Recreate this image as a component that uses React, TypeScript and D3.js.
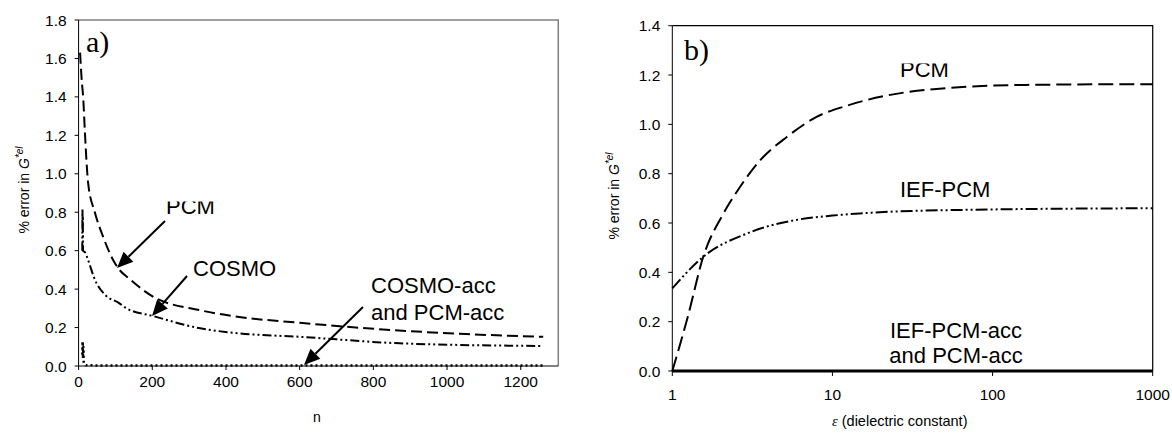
import * as d3 from 'd3'

// panel a) : error vs number of surface elements n
const nPcm = [4, 8, 13, 17, 26, 44, 67, 94, 107, 140, 203, 330, 436, 600, 782, 1053, 1261]
const valPcm = [1.63, 1.5, 1.38, 1.22, 0.95, 0.8, 0.67, 0.55, 0.51, 0.45, 0.36, 0.29, 0.255, 0.225, 0.196, 0.166, 0.152]

const nCosmo = [10, 10.5, 11, 11.5, 12, 18, 26, 44, 72, 108, 130, 202, 330, 436, 600, 872, 1260]
const valCosmo = [0.6, 0.82, 0.7, 0.78, 0.6, 0.59, 0.55, 0.45, 0.37, 0.33, 0.3, 0.26, 0.196, 0.17, 0.152, 0.118, 0.104]

const nAcc = [10, 11, 12, 13, 14, 16, 20, 50, 100, 300, 600, 900, 1260]
const valAcc = [0.06, 0.127, 0.04, 0.1, 0.02, 0.01, 0.004, 0.003, 0.002, 0.002, 0.002, 0.002, 0.002]

const aXTicks = [0, 200, 400, 600, 800, 1000, 1200]
const aYTicks = [0, 0.2, 0.4, 0.6, 0.8, 1.0, 1.2, 1.4, 1.6, 1.8]

// panel b) : error vs dielectric constant
const epsPcm = [1, 1.25, 1.56, 2.08, 2.64, 3.52, 5.17, 7.95, 12.8, 38.6, 162, 1000]
const valPcmB = [0, 0.22, 0.463, 0.637, 0.745, 0.853, 0.948, 1.03, 1.079, 1.14, 1.16, 1.163]

const epsIef = [1, 1.56, 3.05, 6.26, 10, 14.8, 62, 1000]
const valIef = [0.335, 0.463, 0.562, 0.615, 0.63, 0.639, 0.653, 0.66]

const epsAcc = [1, 10, 100, 1000]
const valAccB = [0, 0, 0, 0]

const bXTicks = [1, 10, 100, 1000]
const bYTicks = [0, 0.2, 0.4, 0.6, 0.8, 1.0, 1.2, 1.4]

const font = '"Liberation Sans", Arial, sans-serif'
const serif = '"Liberation Serif", "Times New Roman", serif'
const tickSize = 15.5
const noteSize = 22

function Arrow({ x1, y1, x2, y2 }) {
  const ang = Math.atan2(y2 - y1, x2 - x1)
  const len = 16
  const w = 7
  const bx = x2 - len * Math.cos(ang)
  const by = y2 - len * Math.sin(ang)
  const px = -Math.sin(ang) * w
  const py = Math.cos(ang) * w
  return (
    <g>
      <line x1={x1} y1={y1} x2={bx} y2={by} stroke="#000" strokeWidth={2} />
      <polygon points={`${x2},${y2} ${bx + px},${by + py} ${bx - px},${by - py}`} fill="#000" />
    </g>
  )
}

function YLabel({ x, y }) {
  return (
    <text transform={`translate(${x},${y}) rotate(-90)`} textAnchor="middle" fontFamily={font} fontSize={14}>
      % error in <tspan fontStyle="italic">G</tspan>
      <tspan fontStyle="italic" fontSize={10} dy={-6}>*el</tspan>
    </text>
  )
}

function PanelA() {
  const m = { left: 78.6, right: 558.3, top: 20, bottom: 366 }
  const x = d3.scaleLinear().domain([0, 1302]).range([m.left, m.right])
  const y = d3.scaleLinear().domain([0, 1.8]).range([m.bottom, m.top])
  const line = (xs, ys) =>
    d3
      .line()
      .x((d, i) => x(xs[i]))
      .y((d) => y(d))
      .curve(d3.curveMonotoneX)(ys)

  return (
    <g>
      <defs>
        <clipPath id="clipPcmA">
          <rect x={150} y={201.5} width={100} height={30} />
        </clipPath>
      </defs>
      <path d={`M${m.left},${m.top}H${m.right}V${m.bottom}`} fill="none" stroke="#808080" strokeWidth={1.5} />
      <line x1={m.left} x2={m.right} y1={m.bottom} y2={m.bottom} stroke="#000" />
      <line x1={m.left} x2={m.left} y1={m.top} y2={m.bottom} stroke="#000" />
      {aYTicks.map((t) => (
        <g key={t}>
          <line x1={m.left - 4} x2={m.left} y1={y(t)} y2={y(t)} stroke="#000" />
          <text x={m.left - 12} y={y(t) + 5.5} textAnchor="end" fontFamily={font} fontSize={tickSize}>
            {t.toFixed(1)}
          </text>
        </g>
      ))}
      {aXTicks.map((t) => (
        <g key={t}>
          <line x1={x(t)} x2={x(t)} y1={m.bottom} y2={m.bottom + 4} stroke="#000" />
          <text x={x(t)} y={m.bottom + 21} textAnchor="middle" fontFamily={font} fontSize={tickSize}>
            {t}
          </text>
        </g>
      ))}
      <text x={317} y={422} textAnchor="middle" fontFamily={font} fontSize={14}>n</text>
      <YLabel x={29} y={190} />

      <path d={line(nPcm, valPcm)} fill="none" stroke="#000" strokeWidth={2} strokeDasharray="11,5" />
      <path d={line(nCosmo, valCosmo)} fill="none" stroke="#000" strokeWidth={2} strokeDasharray="9,3,2,3,2,3" />
      <path d={line(nAcc, valAcc)} fill="none" stroke="#000" strokeWidth={2.5} strokeDasharray="2,3" />

      <text x={86} y={52} fontFamily={serif} fontSize={30}>a)</text>
      <text x={166} y={214} fontFamily={font} fontSize={noteSize} clipPath="url(#clipPcmA)">PCM</text>
      <Arrow x1={165} y1={221} x2={117} y2={268} />
      <text x={193} y={276} fontFamily={font} fontSize={noteSize}>COSMO</text>
      <Arrow x1={187} y1={276} x2={152} y2={316} />
      <text x={371} y={293} fontFamily={font} fontSize={noteSize}>COSMO-acc</text>
      <text x={371} y={320} fontFamily={font} fontSize={noteSize}>and PCM-acc</text>
      <Arrow x1={363} y1={307} x2={304} y2={365} />
    </g>
  )
}

function PanelB() {
  const m = { left: 672.3, right: 1152.7, top: 25.7, bottom: 371 }
  const x = d3.scaleLog().domain([1, 1000]).range([m.left, m.right])
  const y = d3.scaleLinear().domain([0, 1.4]).range([m.bottom, m.top])
  const line = (xs, ys) =>
    d3
      .line()
      .x((d, i) => x(xs[i]))
      .y((d) => y(d))
      .curve(d3.curveMonotoneX)(ys)

  return (
    <g>
      <defs>
        <clipPath id="clipPcmB">
          <rect x={880} y={63.5} width={100} height={30} />
        </clipPath>
      </defs>
      <path d={`M${m.left},${m.top}H${m.right}V${m.bottom}`} fill="none" stroke="#000" strokeWidth={1.2} />
      <line x1={m.left} x2={m.left} y1={m.top} y2={m.bottom} stroke="#000" />
      {bYTicks.map((t) => (
        <g key={t}>
          <line x1={m.left - 4} x2={m.left} y1={y(t)} y2={y(t)} stroke="#000" />
          <text x={m.left - 12} y={y(t) + 5.5} textAnchor="end" fontFamily={font} fontSize={tickSize}>
            {t.toFixed(1)}
          </text>
        </g>
      ))}
      {bXTicks.map((t) => (
        <g key={t}>
          <line x1={x(t)} x2={x(t)} y1={m.bottom} y2={m.bottom + 5} stroke="#000" />
          <text x={x(t)} y={m.bottom + 29} textAnchor="middle" fontFamily={font} fontSize={tickSize}>
            {t}
          </text>
        </g>
      ))}
      <text x={832} y={426} fontFamily={font} fontSize={14.5}>
        <tspan fontFamily={serif} fontStyle="italic">ε</tspan> (dielectric constant)
      </text>
      <YLabel x={619} y={196} />

      <path d={line(epsPcm, valPcmB)} fill="none" stroke="#000" strokeWidth={2} strokeDasharray="15,6" />
      <path d={line(epsIef, valIef)} fill="none" stroke="#000" strokeWidth={2} strokeDasharray="12,3,2,3,2,3" />
      <path d={line(epsAcc, valAccB)} fill="none" stroke="#000" strokeWidth={3} />

      <text x={684} y={60} fontFamily={serif} fontSize={30}>b)</text>
      <text x={900} y={77} fontFamily={font} fontSize={noteSize} clipPath="url(#clipPcmB)">PCM</text>
      <text x={900} y={197} fontFamily={font} fontSize={noteSize}>IEF-PCM</text>
      <text x={956} y={338} textAnchor="middle" fontFamily={font} fontSize={noteSize}>IEF-PCM-acc</text>
      <text x={956} y={363} textAnchor="middle" fontFamily={font} fontSize={noteSize}>and PCM-acc</text>
    </g>
  )
}

export default function App() {
  return (
    <svg
      width={1172}
      height={434}
      style={{ position: 'absolute', left: 0, top: 0, background: '#fff' }}
    >
      <rect width={1172} height={434} fill="#fff" />
      <PanelA />
      <PanelB />
    </svg>
  )
}
